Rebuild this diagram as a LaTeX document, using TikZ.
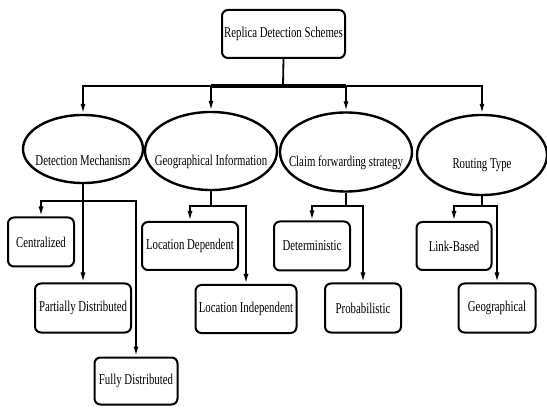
\documentclass[tikz,border=0pt]{standalone}
\usepackage{fontspec}
\setmainfont{Liberation Serif}
\usetikzlibrary{shapes.geometric,arrows.meta}
\newcommand{\sq}[1]{\scalebox{0.72}[1]{#1}}
\begin{document}
\begin{tikzpicture}[x=1pt,y=-1pt,
 box/.style={draw, line width=2pt, rounded corners=6pt, inner sep=0pt, align=center, font=\fontsize{15}{18}\selectfont},
 ell/.style={draw, ellipse, line width=2.4pt, inner sep=0pt},
 lbl/.style={font=\fontsize{15}{18}\selectfont, inner sep=0pt},
 arr/.style={line width=1.8pt, -{Latex[length=10pt,width=5pt]}},
 ln/.style={line width=1.8pt}]
\useasboundingbox (0,0) rectangle (547,409);
% root
\node[box, minimum width=123, minimum height=48] (top) at (283.5,34) {\sq{Replica Detection Schemes}};
\coordinate (bar) at (283,86);
% ellipses
\node[ell, minimum width=120, minimum height=68] (dm) at (83,149) {};
\node[ell, minimum width=132, minimum height=78] (gi) at (211,151) {};
\node[ell, minimum width=132, minimum height=79] (cf) at (346,152) {};
\node[ell, minimum width=130, minimum height=80] (rt) at (482,155) {};
\node[lbl] (dmt) at ([yshift=-11pt]dm.center) {\sq{Detection Mechanism}};
\node[lbl] (git) at ([yshift=-11pt]gi.center) {\sq{Geographical Information}};
\node[lbl] (cft) at ([yshift=-11pt]cf.center) {\sq{Claim forwarding strategy}};
\node[lbl] (rtt) at ([yshift=-10pt]rt.center) {\sq{Routing Type}};
% leaves
\node[box, minimum width=66, minimum height=49] (cen) at (41,242) {\sq{Centralized}};
\node[box, minimum width=96, minimum height=49] (pd) at (83,308) {\sq{Partially Distributed}};
\node[box, minimum width=83, minimum height=47] (fd) at (136,381) {\sq{Fully Distributed}};
\node[box, minimum width=96, minimum height=48] (ld) at (190,246) {\sq{Location Dependent}};
\node[box, minimum width=101, minimum height=48] (li) at (246,309) {\sq{Location Independent}};
\node[box, minimum width=76, minimum height=49] (det) at (312,246) {\sq{Deterministic}};
\node[box, minimum width=76, minimum height=49] (prob) at (363,308) {\sq{Probabilistic}};
\node[box, minimum width=75, minimum height=48] (lb) at (454,246) {\sq{Link-Based}};
\node[box, minimum width=77, minimum height=49] (geo) at (497,308) {\sq{Geographical}};
% top connectors
\draw[ln] (top.south) -- (bar);
\draw[line width=3.6pt] (gi.north |- bar) -- (cf.north |- bar);
\draw[arr] (bar) -| (dm.north);
\draw[arr] (bar) -| (gi.north);
\draw[arr] (bar) -| (cf.north);
\draw[arr] (bar) -| (rt.north);
% detection mechanism
\draw[arr] (dm.south) -- ++(0,17) -| (cen.north);
\draw[arr] (dm.south) -- (pd.north);
\draw[arr] (dm.south) -- ++(0,17) -| (fd.north);
% geographical information
\draw[arr] (gi.south) -- ++(0,15) -| (ld.north);
\draw[arr] (gi.south) -- ++(0,15) -| (li.north);
% claim forwarding
\draw[arr] (cf.south) -- ++(0,13) -| (det.north);
\draw[arr] (cf.south) -- ++(0,13) -| (prob.north);
% routing type
\draw[arr] (rt.south) -- ++(0,10) -| (lb.north);
\draw[arr] (rt.south) -- ++(0,10) -| (geo.north);
\end{tikzpicture}
\end{document}
